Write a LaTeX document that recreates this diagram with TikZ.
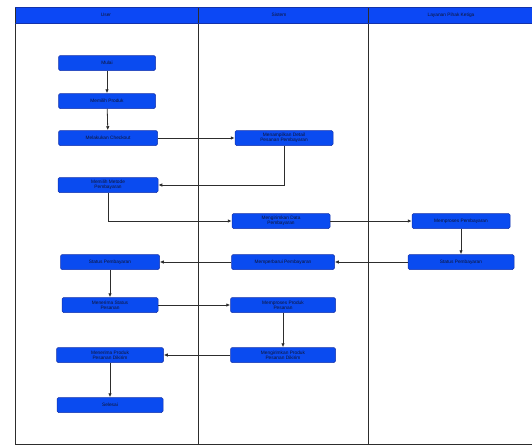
\documentclass[tikz,border=0pt]{standalone}
\usepackage{fontspec}
\setmainfont{Liberation Sans}
\usetikzlibrary{arrows.meta}
\definecolor{laneblue}{RGB}{12,72,245}
\definecolor{boxblue}{RGB}{10,75,240}
\definecolor{boxedge}{RGB}{20,50,170}
\definecolor{txt}{RGB}{15,20,50}
\definecolor{lineg}{RGB}{45,45,45}
\tikzset{
  stepbox/.style={draw=boxedge, line width=0.5pt, fill=boxblue, rounded corners=1.5pt,
    minimum height=15pt, inner sep=1pt, align=center, text=txt,
    font=\fontsize{4.8}{5.3}\selectfont},
  flow/.style={draw=lineg, line width=0.8pt, -{Latex[length=4pt,width=3.5pt]}},
  lanehead/.style={font=\fontsize{4.8}{5.3}\selectfont, text=txt},
}
\begin{document}
\begin{tikzpicture}[x=1pt,y=-1pt]
\useasboundingbox (0,0) rectangle (532,447);
% frame and lanes
\fill[laneblue] (15,7) rectangle (532,23);
\draw[lineg, line width=0.9pt] (15,7) -- (15,444) -- (532,444);
\draw[lineg, line width=0.9pt] (198,7) -- (198,444);
\draw[lineg, line width=0.9pt] (368,7) -- (368,444);
\draw[boxedge, line width=0.5pt] (15,7) -- (532,7) (15,23) -- (532,23);
\node[lanehead] (h1) at (106,15) {User};
\node[lanehead] (h2) at (279,15) {Sistem};
\node[lanehead] (h3) at (451,15) {Layanan Pihak Ketiga};
% user lane
\node[stepbox, minimum width=97pt] (u1) at (107,63) {Mulai};
\node[stepbox, minimum width=97pt] (u2) at (107,101) {Memilih Produk};
\node[stepbox, minimum width=99pt] (u3) at (108,138) {Melakukan Checkout};
\node[stepbox, minimum width=100pt] (u4) at (108,185) {Memilih Metode\\Pembayaran};
\node[stepbox, minimum width=99pt] (u5) at (110,262) {Status Pembayaran};
\node[stepbox, minimum width=96pt] (u6) at (110,305) {Menerima Status\\Pesanan};
\node[stepbox, minimum width=107pt] (u7) at (110,355) {Menerima Produk\\Pesanan Dikirim};
\node[stepbox, minimum width=106pt] (u8) at (110,405) {Selesai};
% system lane
\node[stepbox, minimum width=98pt] (s1) at (284,138) {Menampilkan Detail\\Pesanan Pembayaran};
\node[stepbox, minimum width=98pt] (s2) at (281,221) {Mengirimkan Data\\Pembayaran};
\node[stepbox, minimum width=103pt] (s3) at (283,262) {Memperbarui Pembayaran};
\node[stepbox, minimum width=105pt] (s4) at (283,305) {Memproses Produk\\Pesanan};
\node[stepbox, minimum width=105pt] (s5) at (283,355) {Mengirimkan Produk\\Pesanan Dikirim};
% third party lane
\node[stepbox, minimum width=98pt] (t1) at (461,221) {Memproses Pembayaran};
\node[stepbox, minimum width=106pt] (t2) at (461,262) {Status Pembayaran};
% connectors
\draw[flow] (u1) -- (u2);
\draw[flow] (u2) -- (u3);
\draw[flow] (u3) -- (s1);
\draw[flow] (s1.south) |- (u4.east);
\draw[flow] (u4.south) |- (s2.west);
\draw[flow] (s2) -- (t1);
\draw[flow] (t1) -- (t2);
\draw[flow] (t2) -- (s3);
\draw[flow] (s3) -- (u5);
\draw[flow] (u5) -- (u6);
\draw[flow] (u6) -- (s4);
\draw[flow] (s4) -- (s5);
\draw[flow] (s5) -- (u7);
\draw[flow] (u7) -- (u8);
\end{tikzpicture}
\end{document}
